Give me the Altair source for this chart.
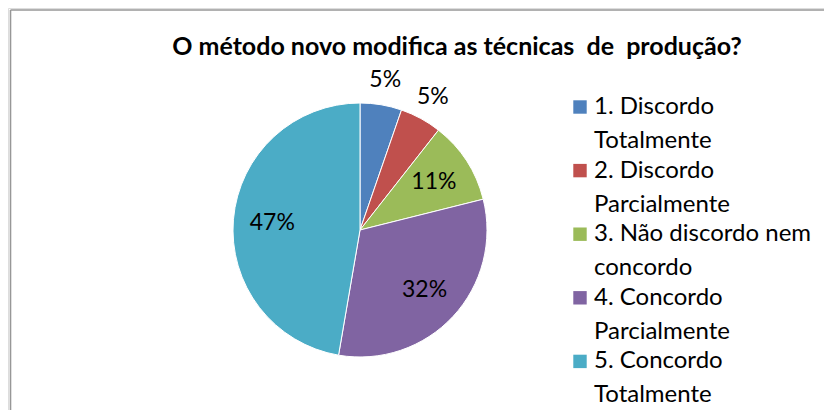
import altair as alt
import pandas as pd

categories = [
    "1. Discordo\nTotalmente",
    "2. Discordo\nParcialmente",
    "3. Não discordo nem\nconcordo",
    "4. Concordo\nParcialmente",
    "5. Concordo\nTotalmente",
]
shares = [5.3, 5.3, 10.5, 31.6, 47.3]
pct_labels = ["5%", "5%", "11%", "32%", "47%"]
order = [1, 2, 3, 4, 5]
colors = ["#4F81BD", "#C0504D", "#9BBB59", "#8064A2", "#4BACC6"]
title_text = "O método novo modifica as técnicas \u00a0de \u00a0produção?"

df = pd.DataFrame({"cat": categories, "share": shares, "label": pct_labels, "idx": order})

FONT = "Lato"
CX, CY, R = 352, 222, 127

base = alt.Chart(df).transform_window(
    end="sum(share)", sort=[alt.SortField("idx")]
).transform_calculate(
    start="datum.end - datum.share", mid="datum.end - datum.share / 2"
)

theta_scale = alt.Scale(domain=[0, 100])

pie = base.mark_arc(outerRadius=R, stroke="white", strokeWidth=1).encode(
    theta=alt.Theta("start:Q", scale=theta_scale),
    theta2="end:Q",
    color=alt.Color(
        "cat:N",
        scale=alt.Scale(domain=categories, range=colors),
        legend=alt.Legend(
            title=None,
            orient="none",
            legendX=560,
            legendY=87,
            labelFont=FONT,
            labelFontSize=24,
            labelColor="black",
            labelExpr="split(datum.label, '\\n')",
            labelLimit=400,
            labelOffset=2,
            symbolType="square",
            symbolSize=180,
            symbolStrokeWidth=0,
            rowPadding=5.6,
        ),
    ),
    x=alt.value(CX),
    y=alt.value(CY),
)

inner = base.transform_filter("datum.share >= 8").mark_text(
    radius=88, font=FONT, fontSize=23, color="black"
).encode(theta=alt.Theta("mid:Q"), text="label:N", x=alt.value(CX), y=alt.value(CY))

outer = base.transform_filter("datum.share < 8").mark_text(
    radius=152, font=FONT, fontSize=23, color="black"
).encode(theta=alt.Theta("mid:Q"), text="label:N", x=alt.value(CX), y=alt.value(CY))

frame_df = pd.DataFrame({"k": [0]})
left_rule = alt.Chart(frame_df).mark_rule(color="#979797", strokeWidth=1.6).encode(
    x=alt.value(2.5), y=alt.value(2), y2=alt.value(402)
)
top_rule = alt.Chart(frame_df).mark_rule(color="#979797", strokeWidth=1.6).encode(
    x=alt.value(2.5), x2=alt.value(816), y=alt.value(2)
)

chart = alt.layer(left_rule, top_rule, pie, inner, outer).properties(
    width=816,
    height=402,
    padding=0,
    autosize=alt.AutoSizeParams(type="none"),
    title=alt.TitleParams(
        title_text,
        font=FONT,
        fontSize=25,
        fontWeight="bold",
        color="black",
        anchor="middle",
        frame="group",
        offset=-52,
        dx=41,
    ),
).configure_view(stroke=None).configure(
    background="white", style={"guide-label": {"lineHeight": 34}}
)

chart.save("out.html", embed_options={"renderer": "svg", "actions": False})
